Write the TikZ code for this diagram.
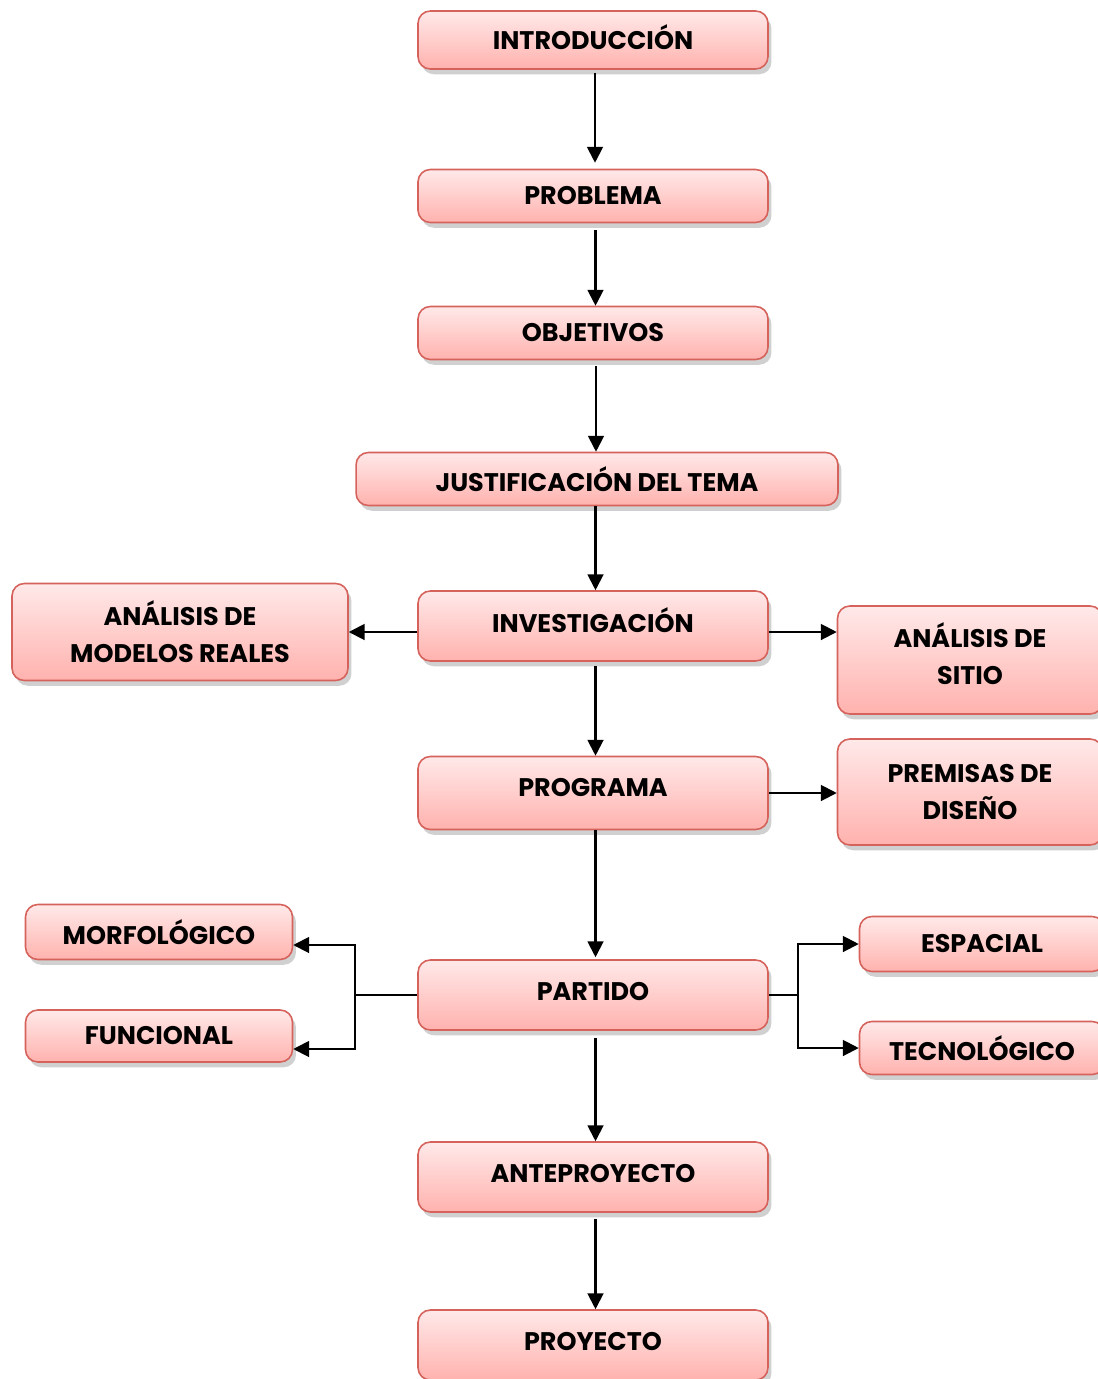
\documentclass[tikz,border=0pt]{standalone}
\usepackage{fontspec}
\setmainfont{Poppins}
\usetikzlibrary{arrows.meta,shadows}
\definecolor{borde}{RGB}{214,98,92}
\definecolor{arriba}{RGB}{255,233,233}
\definecolor{abajo}{RGB}{255,178,174}
\tikzset{
  caja/.style={draw=borde, line width=0.9pt, rounded corners=7pt,
    top color=arriba, bottom color=abajo, align=center,
    font=\fontsize{14.5}{21}\selectfont\bfseries, inner sep=0pt,
    drop shadow={shadow xshift=2pt, shadow yshift=-3pt, opacity=0.3, fill=black!60}},
  flecha/.style={-{Triangle[width=9pt,length=9pt]}, line width=1.15pt},
  linea/.style={line width=1.15pt}
}
\begin{document}
\begin{tikzpicture}[x=0.02cm, y=-0.02cm]
  \clip (0,0) rectangle (1098,1379);
  \fill[white] (0,0) rectangle (1098,1379);
  \node[caja, minimum width=7cm, minimum height=1.16cm, text depth=0.12cm] (intro) at (593,40) {INTRODUCCIÓN};
  \node[caja, minimum width=7cm, minimum height=1.06cm] (prob) at (593,196) {PROBLEMA};
  \node[caja, minimum width=7cm, minimum height=1.06cm] (obj) at (593,333) {OBJETIVOS};
  \node[caja, minimum width=9.64cm, minimum height=1.06cm] (just) at (597,479) {JUSTIFICACIÓN DEL TEMA};
  \node[caja, minimum width=7cm, minimum height=1.4cm, text depth=0.24cm] (inv) at (593,626) {INVESTIGACIÓN};
  \node[caja, minimum width=6.72cm, minimum height=1.94cm] (mod) at (180,632) {ANÁLISIS DE\\MODELOS REALES};
  \node[caja, minimum width=5.3cm, minimum height=2.16cm, text depth=0.24cm] (sitio) at (970,660) {ANÁLISIS DE\\SITIO};
  \node[caja, minimum width=7cm, minimum height=1.46cm, text depth=0.24cm] (prog) at (593,793) {PROGRAMA};
  \node[caja, minimum width=5.3cm, minimum height=2.12cm] (prem) at (970,792) {PREMISAS DE\\DISEÑO};
  \node[caja, minimum width=5.34cm, minimum height=1.1cm] (morf) at (159,932) {MORFOLÓGICO};
  \node[caja, minimum width=5.34cm, minimum height=1.04cm] (func) at (159,1036) {FUNCIONAL};
  \node[caja, minimum width=7cm, minimum height=1.4cm, text depth=0.16cm] (par) at (593,995) {PARTIDO};
  \node[caja, minimum width=4.9cm, minimum height=1.1cm] (esp) at (982,944) {ESPACIAL};
  \node[caja, minimum width=4.9cm, minimum height=1.06cm] (tec) at (982,1048) {TECNOLÓGICO};
  \node[caja, minimum width=7cm, minimum height=1.4cm, text depth=0.16cm] (ante) at (593,1177) {ANTEPROYECTO};
  \node[caja, minimum width=7cm, minimum height=1.4cm, text depth=0.16cm] (proy) at (593,1345) {PROYECTO};
  \coordinate (fl) at (355,995);
  \coordinate (fr) at (798,995);
  \draw[flecha] ([xshift=0.04cm,yshift=-0.06cm]intro.south) -- ([xshift=0.04cm,yshift=0.12cm]prob.north);
  \draw[flecha] ([xshift=0.05cm,yshift=-0.14cm]prob.south) -- ([xshift=0.05cm]obj.north);
  \draw[flecha] ([xshift=0.06cm,yshift=-0.12cm]obj.south) -- ([xshift=0.06cm]obj.south |- just.north);
  \draw[flecha] ([xshift=0.05cm]inv.north |- just.south) -- ([xshift=0.05cm]inv.north);
  \draw[flecha] (mod.east -| inv.west) -- (mod.east);
  \draw[flecha] (mod.east -| inv.east) -- (mod.east -| sitio.west);
  \draw[flecha] ([xshift=0.05cm,yshift=-0.08cm]inv.south) -- ([xshift=0.05cm]prog.north);
  \draw[flecha] (prog.east) -- (prog.east -| prem.west);
  \draw[flecha] ([xshift=0.05cm]prog.south) -- ([xshift=0.05cm,yshift=0.04cm]par.north);
  \draw[linea] (par.west) -- (fl);
  \draw[flecha] (fl) |- ([yshift=-0.26cm]morf.east);
  \draw[flecha] (fl) |- ([yshift=-0.26cm]func.east);
  \draw[linea] (par.east) -- (fr);
  \draw[flecha] (fr) |- (esp.west);
  \draw[flecha] (fr) |- (tec.west);
  \draw[flecha] ([xshift=0.05cm,yshift=-0.14cm]par.south) -- ([xshift=0.05cm]ante.north);
  \draw[flecha] ([xshift=0.05cm,yshift=-0.12cm]ante.south) -- ([xshift=0.05cm]proy.north);
\end{tikzpicture}
\end{document}
